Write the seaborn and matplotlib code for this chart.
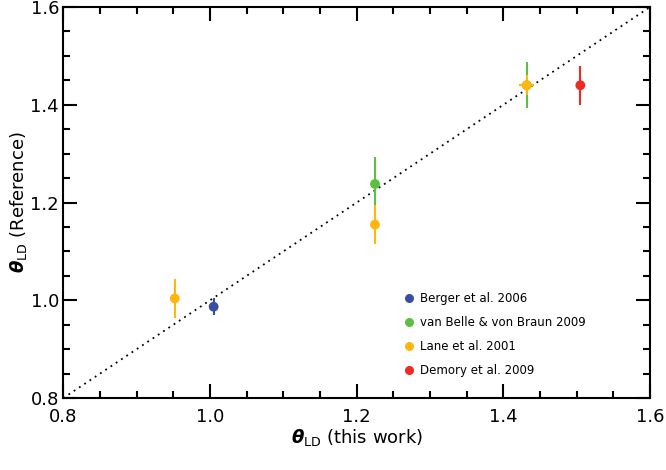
import numpy as np
import matplotlib.pyplot as plt
import seaborn as sns

sns.set_theme(style="ticks")
plt.rcParams['font.family'] = ['DejaVu Sans']

labels = ["Berger et al. 2006", "van Belle & von Braun 2009", "Lane et al. 2001", "Demory et al. 2009"]
colors = ["#3a4ea0", "#5cc040", "#ffb70f", "#ee2a24"]
x_vals = [[1.005], [1.225, 1.432], [0.952, 1.225, 1.432], [1.505]]
y_vals = [[0.987], [1.238, 1.440], [1.004, 1.155, 1.440], [1.440]]
x_errs = [[0.0], [0.0, 0.010], [0.0, 0.0, 0.010], [0.0]]
y_errs = [[0.017], [0.055, 0.047], [0.040, 0.040, 0.020], [0.040]]
legend_y = [1.004, 0.955, 0.906, 0.857]

fig, ax = plt.subplots(figsize=(6.66, 4.70), dpi=100)
fig.subplots_adjust(left=0.095, right=0.976, top=0.985, bottom=0.153)

ax.plot([0.8, 1.6], [0.8, 1.6], ls=(0, (1, 2.5)), color="black", lw=1.3, zorder=1)
for lab, c, xs, ys, xe, ye in zip(labels, colors, x_vals, y_vals, x_errs, y_errs):
    ax.errorbar(xs, ys, xerr=xe, yerr=ye, fmt="none", ecolor=c, elinewidth=1.5, zorder=2)
    sns.scatterplot(x=xs, y=ys, color=c, s=50, edgecolor="none", ax=ax, zorder=3)

for lab, c, yy in zip(labels, colors, legend_y):
    ax.scatter([1.271], [yy], color=c, s=30, zorder=3)
    ax.text(1.287, yy, lab, fontsize=8.5, va="center", color="black")

ax.set_xlim(0.8, 1.6)
ax.set_ylim(0.8, 1.6)
ax.set_xticks([0.8, 1.0, 1.2, 1.4, 1.6])
ax.set_yticks([0.8, 1.0, 1.2, 1.4, 1.6])
ax.set_xticks(np.arange(0.8, 1.601, 0.05), minor=True)
ax.set_yticks(np.arange(0.8, 1.601, 0.05), minor=True)
ax.tick_params(which="both", direction="in", top=True, right=True, width=1.5,
               labelsize=13, color="black", labelcolor="black", pad=3)
ax.tick_params(axis="x", which="both", pad=7)
ax.tick_params(which="major", length=10)
ax.tick_params(which="minor", length=5)
for s in ax.spines.values():
    s.set_linewidth(1.5)
    s.set_color("black")
ax.set_xlabel(r"$\boldsymbol{\theta}_{\rm LD}$ (this work)", fontsize=13, color="black", labelpad=1)
ax.set_ylabel(r"$\boldsymbol{\theta}_{\rm LD}$ (Reference)", fontsize=13, color="black", labelpad=1)

fig.savefig("out.png")
